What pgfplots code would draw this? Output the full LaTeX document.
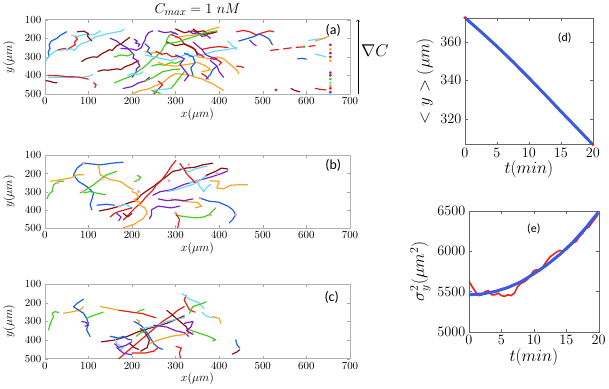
\documentclass[border=0pt]{standalone}
\usepackage{pgfplots}
\pgfplotsset{compat=1.18}
\usepackage{fontspec}
\newfontfamily\lab{Carlito}
\definecolor{cR}{HTML}{E41E1E}
\definecolor{cB}{HTML}{1F5FE0}
\definecolor{cC}{HTML}{66D9F5}
\definecolor{cG}{HTML}{44CC22}
\definecolor{cP}{HTML}{7722CC}
\definecolor{cO}{HTML}{F5A623}
\definecolor{cD}{HTML}{8B1010}
\definecolor{cPink}{HTML}{F4A0B0}
\definecolor{fitB}{HTML}{3A5BE0}
\definecolor{datR}{HTML}{EE2020}
\newcommand\tr[2]{\addplot[#1] coordinates {#2};}

\begin{document}
\begin{tikzpicture}
\pgfplotsset{
  traj/.style={
    scale only axis, width=308pt, height=75pt,
    xmin=0, xmax=700, ymin=100, ymax=500, y dir=reverse,
    xtick={0,100,...,700}, ytick={100,200,...,500},
    axis line style={gray!60}, tick style={gray!70},
    major tick length=3pt,
    tick label style={font=\fontsize{11}{12}\selectfont},
    label style={font=\fontsize{12.5}{14}\selectfont},
    xlabel={$x(\mu m)$}, ylabel={$y(\mu m)$},
    xlabel style={yshift=3pt}, ylabel style={yshift=3pt},
    every axis plot/.append style={line width=1.2pt, no marks, line join=round, line cap=round},
    anchor=south west,
  },
  side/.style={
    scale only axis, anchor=south west,
    axis line style={gray!80!black}, tick style={gray!80!black},
    major tick length=3pt,
    tick label style={font=\fontsize{14}{15}\selectfont},
    label style={font=\fontsize{17}{18}\selectfont},
    xlabel={$t(min)$}, xtick={0,5,...,20}, xmin=0, xmax=20,
    /pgf/number format/1000 sep={}, scaled y ticks=false,
    xlabel style={yshift=3pt},
  },
}

% ---------- (a)
\begin{axis}[traj, at={(41pt,-92pt)},
  title={$C_{max} = 1\ nM$}, title style={font=\fontsize{15}{16}\selectfont, yshift=-5pt}]
\tr{cB}{(10,300)(8,275)(12,255)(10,235)(15,215)(28,200)(35,185)(50,165)}
\tr{cR}{(30,262)(45,255)(52,262)(60,248)(70,235)(68,220)(75,205)(70,190)}
\tr{cC}{(3,320)(12,290)(25,268)(45,262)(62,258)(68,265)(75,245)(85,228)(95,222)(100,215)(118,190)(130,185)(140,178)(160,168)(175,162)(182,150)}
\tr{cC}{(62,185)(75,190)(90,180)(105,182)(115,178)(128,160)}
\tr{cD}{(85,325)(95,310)(110,300)(120,302)(130,285)(148,262)(155,265)(165,240)(175,230)(185,212)(195,195)}
\tr{cD}{(75,165)(90,162)(100,175)(98,188)(102,200)(108,215)}
\tr{cD}{(122,378)(135,370)(145,372)(165,365)(175,368)(185,352)(200,340)(207,330)(215,322)}
\tr{cD}{(3,428)(12,432)(20,438)(28,440)}
\tr{cC}{(8,412)(35,410)(60,412)(85,410)(100,405)(110,395)}
\tr{cR}{(8,400)(30,402)(55,407)(75,408)(90,415)(100,420)}
\tr{cR}{(112,440)(118,450)(115,465)}
\tr{cP}{(150,200)(165,215)(172,228)(180,240)(188,250)(195,265)(205,290)(202,305)(212,320)(218,350)(210,365)(210,380)(200,410)}
\tr{cP}{(175,255)(200,258)(210,265)(222,250)(225,230)(230,210)(232,190)(238,170)(248,160)}
\tr{cP}{(180,470)(200,460)(215,440)(230,430)(240,410)}
\tr{cP}{(205,205)(212,215)(208,225)(218,232)(214,245)}
\tr{cG}{(160,440)(180,420)(192,410)(205,395)(215,375)(225,360)(240,330)(245,315)(255,300)(268,270)(272,250)(278,230)(280,210)(285,185)(300,170)}
\tr{cG}{(230,430)(250,410)(260,395)(270,380)(290,370)(310,365)}
\tr{cG}{(245,350)(260,340)(275,345)(290,330)(300,335)(315,320)}
\tr{cG}{(160,300)(175,290)(190,295)(205,280)}
\tr{cO}{(200,500)(220,480)(235,475)(250,460)(270,440)(278,425)(285,410)(300,390)}
\tr{cO}{(300,195)(315,190)(330,185)(345,182)(360,175)(372,160)(385,150)(400,140)}
\tr{cO}{(300,390)(320,395)(335,400)(345,410)(360,418)(370,430)(385,445)(395,460)(410,480)}
\tr{cO}{(260,330)(280,345)(300,350)(315,345)(330,340)(350,330)(370,350)(380,370)(360,380)}
\tr{cO}{(230,270)(245,280)(258,275)(270,290)}
\tr{cO}{(350,300)(365,305)(380,310)(395,300)(410,310)(420,330)(430,350)(440,370)(445,390)}
\tr{cC}{(230,290)(250,300)(270,310)(290,320)(310,300)(330,280)}
\tr{cC}{(330,300)(345,295)(360,290)(375,280)(390,270)(420,260)(440,250)}
\tr{cC}{(190,400)(200,390)(215,395)(225,380)}
\tr{cC}{(420,215)(430,240)(440,260)}
\tr{cR}{(290,180)(310,200)(315,215)(320,230)(340,250)(345,265)(350,280)(365,300)}
\tr{cR}{(250,500)(262,470)(270,450)(260,430)}
\tr{cR}{(255,270)(268,285)(280,282)(292,300)(305,295)}
\tr{cR}{(380,310)(395,315)(405,330)(400,345)}
\tr{cD}{(300,150)(320,170)(340,160)(360,180)(380,175)(395,165)}
\tr{cD}{(340,150)(350,165)(365,160)(372,175)(385,170)}
\tr{cD}{(280,220)(300,240)(320,230)(345,260)(350,290)}
\tr{cP}{(300,290)(320,310)(310,340)(320,370)(330,400)(320,430)}
\tr{cP}{(340,220)(350,240)(360,260)(370,290)(380,300)(395,310)}
\tr{cP}{(330,160)(340,175)(352,170)(360,190)(372,185)(380,200)}
\tr{cP}{(260,160)(275,170)(290,165)(305,180)}
\tr{cG}{(280,230)(305,220)(330,200)(350,185)(370,170)(395,160)}
\tr{cG}{(290,470)(300,440)(310,410)(320,380)}
\tr{cB}{(320,280)(340,300)(345,330)(335,360)(340,400)}
\tr{cB}{(230,230)(240,250)(235,270)(245,290)}
\tr{cC}{(250,480)(270,475)(290,470)}
\tr{cR}{(360,260)(380,250)(400,245)(420,250)}
\tr{cB}{(395,350)(385,370)(380,395)(370,420)}
\tr{cP}{(380,320)(395,350)(400,380)(410,410)}
\tr{cR}{(360,390)(370,405)(375,420)}
\tr{cG}{(245,480)(255,490)(265,495)}
\tr{cR}{(440,165)(455,158)(470,165)(485,182)(500,170)(515,160)(525,165)}
\tr{cB}{(445,215)(460,205)(478,192)(492,178)(505,190)(515,205)(522,235)}
\tr{cP}{(470,210)(478,230)(485,240)}
\tr{cR, dash pattern=on 8pt off 5pt}{(518,265)(545,258)(570,250)(600,245)(620,240)}
\tr{cC}{(605,212)(625,205)(645,198)}
\tr{cO}{(620,215)(635,205)(650,190)}
\tr{cC}{(620,285)(632,292)(645,300)}
\tr{cB}{(580,310)(590,308)(600,312)}
\tr{cR}{(440,350)(450,352)(456,358)}
\tr{cD}{(565,470)(572,480)(585,488)}
\tr{cR}{(620,470)(632,475)(645,478)}
\addplot[only marks, mark=square*, mark size=0.8pt, cR] coordinates {(655,235)(655,300)(655,385)(655,470)(530,478)};
\addplot[only marks, mark=square*, mark size=0.8pt, cO] coordinates {(655,260)(655,320)(655,455)};
\addplot[only marks, mark=square*, mark size=0.8pt, cP] coordinates {(655,280)(655,400)(655,490)};
\addplot[only marks, mark=square*, mark size=0.8pt, cG] coordinates {(655,420)(595,245)};
\addplot[only marks, mark=square*, mark size=0.8pt, cC] coordinates {(655,440)(655,500)};
\node[font=\lab\fontsize{14}{15}\selectfont] at (rel axis cs:0.945,0.86) {(a)};
\end{axis}

% ---------- (b)
\begin{axis}[traj, at={(41pt,-227pt)}, height=73pt]
\tr{cB}{(180,137)(157,142)(127,152)(89,142)(74,170)(66,207)(77,243)(96,271)(112,307)(108,344)(104,372)(108,400)}
\tr{cO}{(123,152)(127,207)(150,234)(173,243)(195,280)(203,289)}
\tr{cG}{(165,188)(142,207)(127,234)(112,262)(89,298)(81,307)}
\tr{cO}{(13,243)(36,234)(59,225)(74,207)(89,207)}
\tr{cG}{(5,340)(9,317)(17,298)(20,262)(32,243)(43,243)}
\tr{cG}{(89,307)(104,300)(127,312)(140,317)}
\tr{cD}{(125,407)(150,395)(172,380)(195,360)(210,350)(220,320)(233,297)(250,270)(264,243)(280,215)(294,188)(310,180)(324,170)(345,165)(362,152)(385,143)}
\tr{cR}{(180,457)(195,420)(210,384)(222,360)(230,335)(248,292)(255,265)(265,245)(279,201)(285,180)(290,160)(301,127)}
\tr{cO}{(215,370)(230,390)(235,420)(225,450)(205,480)(180,500)}
\tr{cG}{(205,245)(215,235)(220,220)(212,210)}
\tr{cO}{(200,300)(210,310)(215,330)(205,345)(220,360)}
\tr{cP}{(240,450)(245,430)(245,400)(260,380)(290,390)(310,380)}
\tr{cP}{(248,320)(265,300)(290,290)(320,260)(350,240)(380,220)(405,200)(420,185)}
\tr{cC}{(280,300)(300,290)(320,275)(340,260)(355,240)(365,220)(375,210)}
\tr{cC}{(310,170)(330,190)(345,175)(360,165)(372,160)}
\tr{cC}{(330,250)(350,245)(355,270)(365,300)(370,280)(380,260)}
\tr{cR}{(310,145)(318,170)(325,200)(335,225)(345,250)}
\tr{cO}{(380,240)(400,243)(395,280)(410,285)(425,265)(445,262)(465,262)}
\tr{cG}{(301,430)(320,438)(347,445)(365,440)(377,427)(392,390)}
\tr{cB}{(355,335)(377,353)(398,358)(420,380)(431,400)(438,427)(431,454)(423,473)}
\tr{cR}{(300,418)(309,454)(305,500)}
\tr{cD}{(370,210)(390,190)(405,170)(420,175)}
\tr{cP}{(165,420)(175,440)(170,460)}
\tr{cC}{(170,380)(185,370)(200,390)}
\tr{cR}{(150,440)(160,420)(170,410)(185,400)(200,390)}
\tr{cB}{(120,375)(140,370)(160,375)}
\tr{cD}{(180,420)(190,440)(200,420)}
\tr{cO}{(290,340)(320,355)(350,360)(360,380)(345,390)}
\tr{cP}{(260,340)(280,350)(300,345)(320,350)(340,340)}
\addplot[only marks, mark=asterisk, mark size=1.3pt, cPink, line width=0.5pt] coordinates {(89,142)(30,250)(89,298)(330,150)(350,240)(380,430)(438,427)(300,418)(356,335)(285,240)(210,240)(170,380)(130,230)(395,200)(215,300)};
\node[font=\lab\fontsize{14}{15}\selectfont] at (rel axis cs:0.945,0.86) {(b)};
\end{axis}

% ---------- (c)
\begin{axis}[traj, at={(41pt,-359pt)}]
\tr{cG}{(9,345)(13,310)(20,274)(17,256)(24,247)(32,252)}
\tr{cO}{(43,256)(66,247)(81,238)(89,221)}
\tr{cB}{(89,180)(74,203)(66,221)(77,238)(89,256)(96,283)(100,310)(96,345)(104,381)}
\tr{cG}{(96,283)(115,265)(134,250)}
\tr{cP}{(85,300)(95,305)(100,322)(92,325)}
\tr{cO}{(128,220)(150,230)(170,240)}
\tr{cR}{(170,240)(200,250)(225,258)(240,270)(255,280)}
\tr{cG}{(212,250)(220,240)(228,235)}
\tr{cO}{(210,290)(218,300)(212,310)}
\tr{cD}{(130,410)(160,400)(190,380)(215,355)(250,330)(280,310)(300,290)(320,270)}
\tr{cR}{(170,500)(185,470)(200,440)(215,410)(230,380)(250,340)(270,300)(290,270)(305,240)(320,220)}
\tr{cB}{(205,300)(220,320)(230,345)(240,380)(250,420)(260,440)(270,450)}
\tr{cC}{(220,340)(240,330)(260,320)(280,300)(300,290)(320,280)}
\tr{cP}{(250,320)(280,330)(300,350)(320,360)(330,380)}
\tr{cO}{(240,420)(260,400)(290,380)(320,370)(340,360)}
\tr{cD}{(220,460)(235,440)(240,400)(230,360)(220,340)}
\tr{cC}{(170,460)(180,440)(165,420)(160,380)}
\tr{cP}{(160,420)(170,440)(185,430)(200,410)}
\tr{cR}{(200,470)(230,470)(250,460)(260,440)}
\tr{cD}{(280,240)(290,260)(300,280)(310,300)(325,330)(330,360)}
\tr{cR}{(324,159)(320,185)(328,221)(332,238)(345,250)}
\tr{cC}{(315,150)(332,180)(354,200)(365,230)}
\tr{cG}{(332,256)(339,221)(362,203)(370,194)}
\tr{cC}{(360,250)(370,270)(385,280)}
\tr{cO}{(385,274)(400,283)(404,310)}
\tr{cG}{(332,345)(354,363)(377,381)(392,399)(385,405)}
\tr{cB}{(438,399)(441,425)(447,443)}
\tr{cD}{(430,476)(441,464)(447,452)}
\tr{cR}{(301,434)(313,443)(309,470)(311,496)}
\tr{cP}{(320,310)(340,300)(335,330)(325,350)(340,370)}
\tr{cG}{(210,380)(220,360)(230,355)}
\tr{cB}{(150,380)(170,390)(180,380)(190,395)(200,400)}
\tr{cP}{(165,440)(180,470)(200,480)}
\tr{cD}{(195,420)(205,440)(215,450)}
\node[font=\lab\fontsize{14}{15}\selectfont] at (rel axis cs:0.94,0.83) {(c)};
\end{axis}

\draw[->, line width=0.5pt] (357pt,-92pt) -- (357pt,-17pt);
\node[font=\fontsize{17}{18}\selectfont] at (374pt,-48pt) {$\nabla C$};

% ---------- (d)
\begin{axis}[side, at={(465pt,-143pt)}, width=129pt, height=128pt,
  ymin=306.5, ymax=372.5, ytick={320,340,360}, ylabel={$<y>(\mu m)$}]
\addplot[datR, line width=1.5pt, no marks] coordinates {
(0,372.5)(1,369.5)(2,366.6)(3,363.8)(4,360.7)(5,357.3)(6,354.5)(7,351.3)(8,348.1)(9,344.8)(10,341.4)
(11,337.8)(12,334.4)(13,331.0)(14,327.4)(15,323.9)(16,320.4)(17,316.8)(18,313.4)(19,310.0)(20,306.5)};
\addplot[fitB, line width=3pt, no marks] coordinates {
(0,372.5)(2.5,365.2)(5,357.6)(7.5,349.6)(10,341.2)(12.5,332.6)(15,323.8)(17.5,315.2)(20,306.5)};
\addplot[only marks, mark=*, mark size=1.3pt, datR] coordinates {(0,372.5)(20,306.5)};
\node[font=\lab\fontsize{12}{14}\selectfont] at (rel axis cs:0.78,0.84) {(d)};
\end{axis}

% ---------- (e)
\begin{axis}[side, at={(469pt,-332pt)}, width=131pt, height=122pt,
  ymin=5000, ymax=6500, ytick={5000,5500,6000,6500}, ylabel={$\sigma_y^2(\mu m^2)$}]
\addplot[datR, line width=1.6pt, no marks] coordinates {
(0,5630)(0.5,5560)(1,5500)(1.5,5450)(2,5460)(2.5,5500)(3,5510)(3.5,5460)(4,5460)(4.5,5480)
(5,5450)(5.5,5440)(6,5460)(6.5,5450)(7,5480)(7.5,5560)(8,5600)(8.5,5620)(9,5650)(9.5,5700)
(10,5760)(10.5,5770)(11,5760)(11.5,5820)(12,5880)(12.5,5930)(13,5960)(13.5,5990)(14,6010)(14.5,6000)
(15,6020)(15.5,6060)(16,6100)(16.5,6120)(17,6180)(17.5,6220)(18,6280)(18.5,6300)(19,6360)(19.5,6410)(20,6470)};
\addplot[fitB, line width=3pt, no marks] coordinates {
(0,5460)(2,5470)(4,5500)(6,5550)(8,5620)(10,5720)(12,5830)(14,5960)(16,6110)(18,6290)(20,6490)};
\node[font=\lab\fontsize{12}{14}\selectfont] at (rel axis cs:0.5,0.85) {(e)};
\end{axis}
\end{tikzpicture}
\end{document}
